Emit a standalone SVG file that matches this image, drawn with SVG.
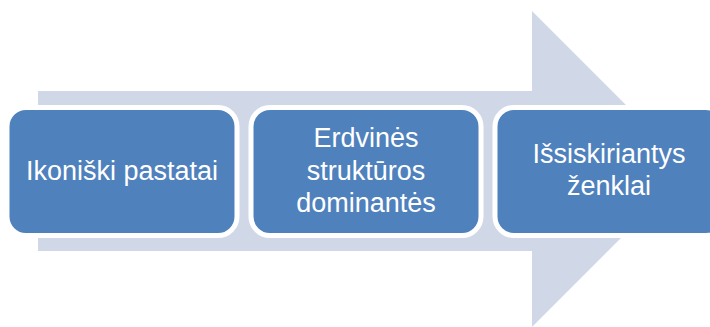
<svg xmlns="http://www.w3.org/2000/svg" width="710" height="327" viewBox="0 0 710 327">
<style>
.box{fill:#4F81BD;stroke:#FFFFFF;stroke-width:5}
.lbl{font-family:"Liberation Sans",Arial,sans-serif;font-size:27px;fill:#FFFFFF;text-anchor:middle}
</style>
<rect width="710" height="327" fill="#FFFFFF"/>
<g id="connectors">
<polygon points="38,91 532,91 532,11 690,169 532,327 532,251 38,251" fill="#D0D8E8"/>
</g>
<g id="node1">
<rect class="box" x="7" y="107.5" width="230" height="128" rx="19"/>
<text class="lbl" x="122" y="180">Ikoniški pastatai</text>
</g>
<g id="node2">
<rect class="box" x="251" y="107.5" width="230" height="128" rx="19"/>
<text class="lbl" x="366" y="147">Erdvinės</text>
<text class="lbl" x="366" y="180">struktūros</text>
<text class="lbl" x="366" y="212">dominantės</text>
</g>
<g id="node3">
<rect class="box" x="495" y="107.5" width="230" height="128" rx="19"/>
<text class="lbl" x="609" y="163">Išsiskiriantys</text>
<text class="lbl" x="609" y="195">ženklai</text>
</g>
</svg>
